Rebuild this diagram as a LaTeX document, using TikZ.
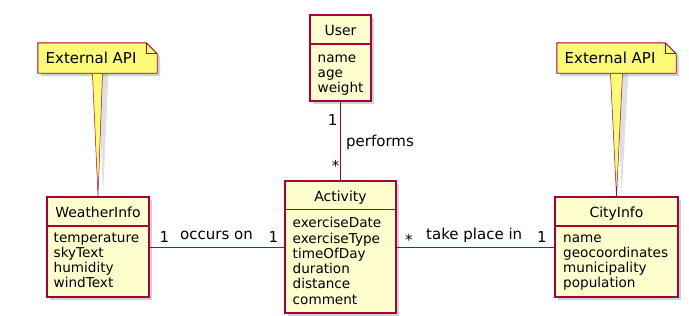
\documentclass[tikz,border=0pt]{standalone}
\usepackage{fontspec}
\setmainfont{DejaVu Sans}
\usepackage{xcolor}
\usetikzlibrary{positioning, calc, shadows}

\definecolor{umlred}{HTML}{A80036}
\definecolor{umlfill}{HTML}{FEFECE}
\definecolor{notefill}{HTML}{FBFB77}

\begin{document}
\begin{tikzpicture}[x=1pt, y=-1pt,
    classbox/.style={draw=umlred, fill=umlfill, line width=1.2pt, inner sep=0pt,
        drop shadow={shadow xshift=3pt, shadow yshift=-3pt, fill=black!40, opacity=.45}},
    classline/.style={draw=umlred, line width=1.2pt},
    classtitle/.style={anchor=base, inner sep=0pt, font=\fontsize{14}{16}\selectfont},
    classattr/.style={anchor=base west, inner sep=0pt, font=\fontsize{13.6}{15}\selectfont},
    umlline/.style={draw=umlred, line width=0.9pt},
    rolelabel/.style={anchor=base west, inner sep=0pt, font=\fontsize{15}{17}\selectfont},
    mult/.style={anchor=base east, inner sep=0pt, font=\fontsize{15}{17}\selectfont},
    notearea/.style={minimum width=119pt, minimum height=30pt, inner sep=0pt},
    notebody/.style={draw=umlred, fill=notefill, line width=0.9pt,
        drop shadow={shadow xshift=3pt, shadow yshift=-3pt, fill=black!40, opacity=.45}},
    noteedge/.style={draw=umlred, fill=notefill, line width=0.5pt},
    edgeshadow/.style={fill=black!30, opacity=.4},
    notetext/.style={anchor=base west, inner sep=0pt, font=\fontsize{15}{17}\selectfont}]

    % Canvas
    \useasboundingbox (0,0) rectangle (689,316);

    % Classes
    \node[classbox, minimum width=61pt, minimum height=86pt] (user) at (340.5,58) {};
    \node[classbox, minimum width=111pt, minimum height=132pt] (activity) at (340.5,247) {};
    \node[classbox, minimum width=102pt, minimum height=100pt] (weather) at (98,247) {};
    \node[classbox, minimum width=123pt, minimum height=100pt] (city) at (616.5,247) {};

    % Header dividers
    \draw[classline] (user.west |- 0,44) -- (user.east |- 0,44);
    \draw[classline] (activity.west |- 0,209.5) -- (activity.east |- 0,209.5);
    \draw[classline] (weather.west |- 0,226) -- (weather.east |- 0,226);
    \draw[classline] (city.west |- 0,226) -- (city.east |- 0,226);

    % Titles
    \node[classtitle] (user-title) at (340.5,35) {User};
    \node[classtitle] (activity-title) at (340.5,201.5) {Activity};
    \node[classtitle] (weather-title) at (98,217) {WeatherInfo};
    \node[classtitle] (city-title) at (616.5,217) {CityInfo};

    % Attributes
    \foreach \attr [count=\i] in {name,age,weight}
        \node[classattr] (user-\i) at (317.5,{62.5+15.2*(\i-1)}) {\attr};
    \foreach \attr [count=\i] in {exerciseDate,exerciseType,timeOfDay,duration,distance,comment}
        \node[classattr] (activity-\i) at (292.5,{227.7+15.3*(\i-1)}) {\attr};
    \foreach \attr [count=\i] in {temperature,skyText,humidity,windText}
        \node[classattr] (weather-\i) at (53.5,{242+15*(\i-1)}) {\attr};
    \foreach \attr [count=\i] in {name,geocoordinates,municipality,population}
        \node[classattr] (city-\i) at (563,{242+15*(\i-1)}) {\attr};

    % Associations
    \draw[umlline] (user) -- (activity);
    \node[mult] (user-one) at (337.5,125) {1};
    \node[rolelabel] (performs) at (346,146.5) {performs};
    \node[mult] (activity-many) at (339.5,171) {*};

    \draw[umlline] (weather) -- (activity);
    \node[rolelabel] (weather-one) at (159.5,242) {1};
    \node[rolelabel] (occurs) at (180,239) {occurs on};
    \node[rolelabel] (activity-one) at (268.5,242) {1};

    \draw[umlline] (activity) -- (city);
    \node[rolelabel] (activity-star) at (405,245) {*};
    \node[rolelabel] (place) at (426,239) {take place in};
    \node[rolelabel] (city-one) at (537,242) {1};

    % Notes
    \node[notearea] (weather-note) at (97.5,58) {};
    \fill[edgeshadow] ($(weather-note.south)+(1pt,3pt)$) -- ($(weather.north)+(5pt,0)$) -- ($(weather-note.south)+(11pt,3pt)$) -- cycle;
    \draw[notebody] (weather-note.south west) -- (weather-note.north west)
        -- ($(weather-note.north east)+(-11pt,0)$) -- ($(weather-note.north east)+(0,-11pt)$)
        -- (weather-note.south east) -- cycle;
    \draw[umlline] ($(weather-note.north east)+(-11pt,0)$) |- ($(weather-note.north east)+(0,-11pt)$);
    \path[noteedge] ($(weather-note.south)+(-5pt,-1pt)$) -- (weather.north) -- ($(weather-note.south)+(5pt,-1pt)$);
    \node[notetext] (weather-api) at (45.5,63) {External API};

    \node[notearea] (city-note) at (616.5,58) {};
    \fill[edgeshadow] ($(city-note.south)+(1pt,3pt)$) -- ($(city.north)+(5pt,0)$) -- ($(city-note.south)+(12pt,3pt)$) -- cycle;
    \draw[notebody] (city-note.south west) -- (city-note.north west)
        -- ($(city-note.north east)+(-11pt,0)$) -- ($(city-note.north east)+(0,-11pt)$)
        -- (city-note.south east) -- cycle;
    \draw[umlline] ($(city-note.north east)+(-11pt,0)$) |- ($(city-note.north east)+(0,-11pt)$);
    \path[noteedge] ($(city-note.south)+(-6pt,-1pt)$) -- (city.north) -- ($(city-note.south)+(6pt,-1pt)$);
    \node[notetext] (city-api) at (564.5,63) {External API};
\end{tikzpicture}
\end{document}
